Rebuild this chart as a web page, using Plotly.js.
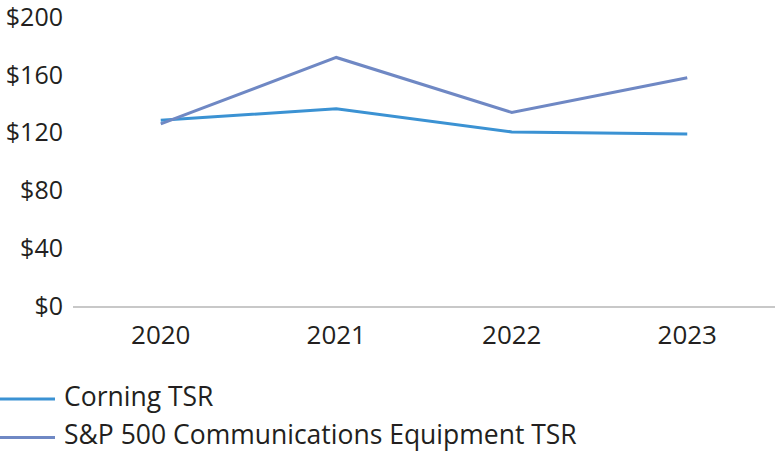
<!DOCTYPE html>
<html>
<head>
<meta charset="utf-8">
<script src="https://cdn.plot.ly/plotly-3.0.1.min.js"></script>
<style>html,body{margin:0;padding:0;background:#fff;}</style>
</head>
<body>
<div id="chart" style="width:775px;height:452px;"></div>
<script>
const years = ['2020', '2021', '2022', '2023'];
const corningTSR = [128.5, 136.5, 120.5, 119];
const spCommEquipTSR = [126, 172, 134, 158];
const seriesNames = ['Corning TSR', 'S&P 500 Communications Equipment TSR'];
const seriesColors = ['#3b92d3', '#6f88c4'];
const yTicks = [0, 40, 80, 120, 160, 200];
const yTickText = ['$0', '$40', '$80', '$120', '$160', '$200'];

const family = '"Open Sans", "Noto Sans", sans-serif';
const font = {family: family, color: '#231f20', size: 26};
const yFont = {family: family, color: '#231f20', size: 25};
const legendFont = {family: family, color: '#231f20', size: 26.5};

const traces = [
  {x: years, y: corningTSR, name: seriesNames[0], type: 'scatter', mode: 'lines',
   line: {color: seriesColors[0], width: 3}},
  {x: years, y: spCommEquipTSR, name: seriesNames[1], type: 'scatter', mode: 'lines',
   line: {color: seriesColors[1], width: 3}}
];

// custom legend (plot area: x 73..775 px, y 17..306 px)
const plotL = 73, plotW = 702, plotB = 306, plotH = 289;
const px = p => (p - plotL) / plotW;
const py = p => (plotB - p) / plotH;
const legendRows = [399, 437.5];
const shapes = [], annotations = [];
seriesNames.forEach((n, i) => {
  shapes.push({type: 'line', xref: 'paper', yref: 'paper',
    x0: px(0), x1: px(55), y0: py(legendRows[i]), y1: py(legendRows[i]),
    line: {color: seriesColors[i], width: 3}});
  annotations.push({xref: 'paper', yref: 'paper', x: px(63), y: py(legendRows[i] - 3.5),
    xanchor: 'left', yanchor: 'middle', text: n, showarrow: false, font: legendFont,
    borderpad: 0});
});

const layout = {
  width: 775, height: 452,
  margin: {l: 73, r: 0, t: 17, b: 146},
  paper_bgcolor: '#fff', plot_bgcolor: '#fff',
  font: font,
  showlegend: false,
  shapes: shapes,
  annotations: annotations,
  xaxis: {type: 'category', range: [-0.5, 3.5], showgrid: false, zeroline: false,
          showline: true, linecolor: '#c8c8c8', linewidth: 1.5, ticks: '',
          tickfont: font, ticklabelstandoff: 5},
  yaxis: {range: [0, 200], tickvals: yTicks, ticktext: yTickText, showgrid: false,
          zeroline: false, showline: false, ticks: '', tickfont: yFont,
          ticklabelstandoff: 9, automargin: false, ticklabeloverflow: 'allow'}
};

Plotly.newPlot('chart', traces, layout, {displayModeBar: false, staticPlot: true});
</script>
</body>
</html>
